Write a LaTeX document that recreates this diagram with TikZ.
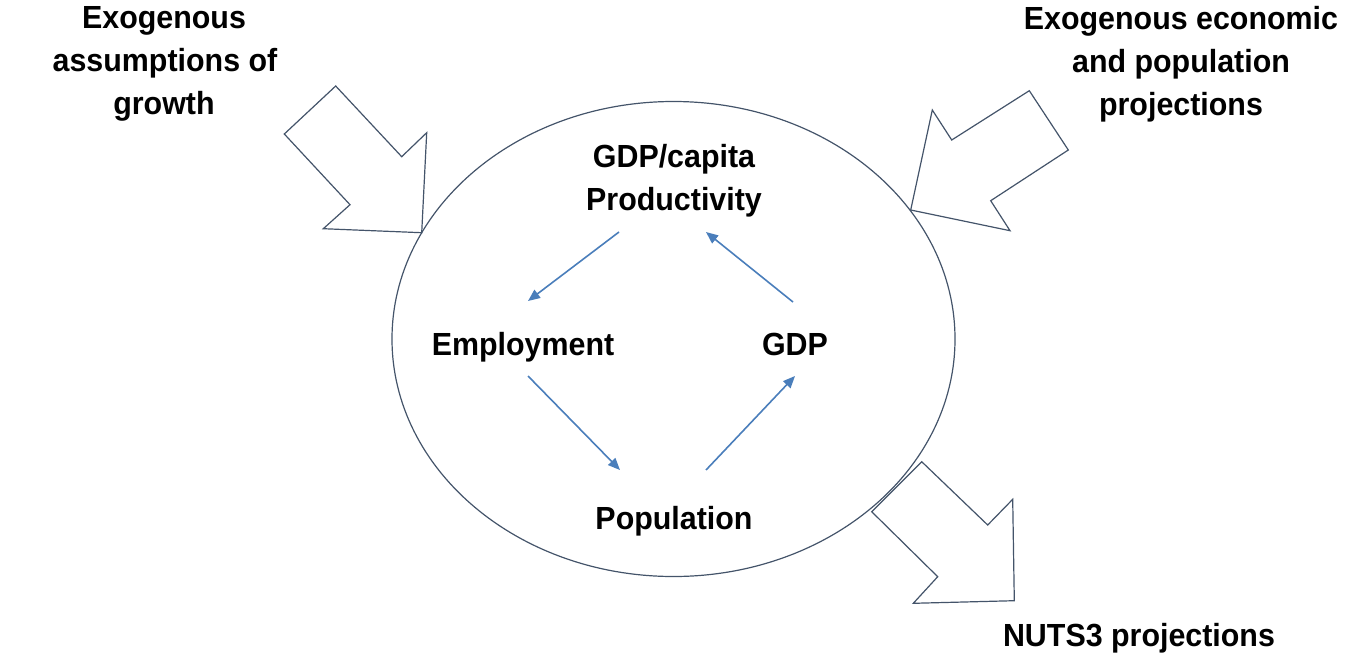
\documentclass[tikz,border=0pt]{standalone}
\usepackage{fontspec}
\setmainfont{Liberation Sans}[FakeStretch=0.95]
\usetikzlibrary{arrows.meta,shapes.geometric}
\definecolor{rim}{HTML}{44546A}
\definecolor{flow}{HTML}{4A7EBB}
\begin{document}
\begin{tikzpicture}[x=1pt,y=-1pt,
  lbl/.style={anchor=base,inner sep=0pt,font=\fontsize{32}{43}\selectfont\bfseries,text=black},
  bigarrow/.style={draw=rim,fill=white,line width=1.2pt,line join=miter},
  flowarrow/.style={draw=flow,line width=1.6pt,-{Triangle[length=12pt,width=10pt]}}]
\useasboundingbox (0,0) rectangle (1359,664);
% ellipse
\node[draw=rim,line width=1.2pt,ellipse,inner sep=0pt,minimum width=563pt,minimum height=475pt] (loop) at (673.5,339) {};
% big arrows
\draw[bigarrow] (335.7,86) -- (284.3,134) -- (350,204.7) -- (323.3,228.7) -- (421.7,232.7) -- (426.7,132.7) -- (401.7,156.7) -- cycle;
\draw[bigarrow] (1029.3,90.7) -- (1068.3,150) -- (990.7,200.7) -- (1010,230.7) -- (910.7,210) -- (932.3,110) -- (951.7,140) -- cycle;
\draw[bigarrow] (921.7,461.7) -- (987.7,525) -- (1012.7,499.3) -- (1014.3,600.7) -- (913.3,603.3) -- (937.7,576.7) -- (871.7,511.7) -- cycle;
% outer labels
\node[lbl] (tl1) at (164,28) {Exogenous};
\node[lbl] (tl2) at (165,71) {assumptions of};
\node[lbl] (tl3) at (164,114) {growth};
\node[lbl] (tr1) at (1181,29) {Exogenous economic};
\node[lbl] (tr2) at (1181,72) {and population};
\node[lbl] (tr3) at (1181,115) {projections};
\node[lbl] (nuts) at (1139,646) {NUTS3 projections};
% inner labels
\node[lbl] (gdpc) at (674,167) {GDP/capita};
\node[lbl] (prod) at (674,210) {Productivity};
\node[lbl] (emp) at (523,355) {Employment};
\node[lbl] (gdp) at (795,355) {GDP};
\node[lbl] (pop) at (674,529) {Population};
% connector end points
\coordinate (prodS) at (619,232);
\coordinate (empN) at (528,301);
\coordinate (gdpN) at (793,302);
\coordinate (prodE) at (706,232);
\coordinate (empS) at (528,376);
\coordinate (popW) at (620,470);
\coordinate (popE) at (706,470);
\coordinate (gdpS) at (795,376);
\draw[flowarrow] (prodS) -- (empN);
\draw[flowarrow] (gdpN) -- (prodE);
\draw[flowarrow] (empS) -- (popW);
\draw[flowarrow] (popE) -- (gdpS);
\end{tikzpicture}
\end{document}
